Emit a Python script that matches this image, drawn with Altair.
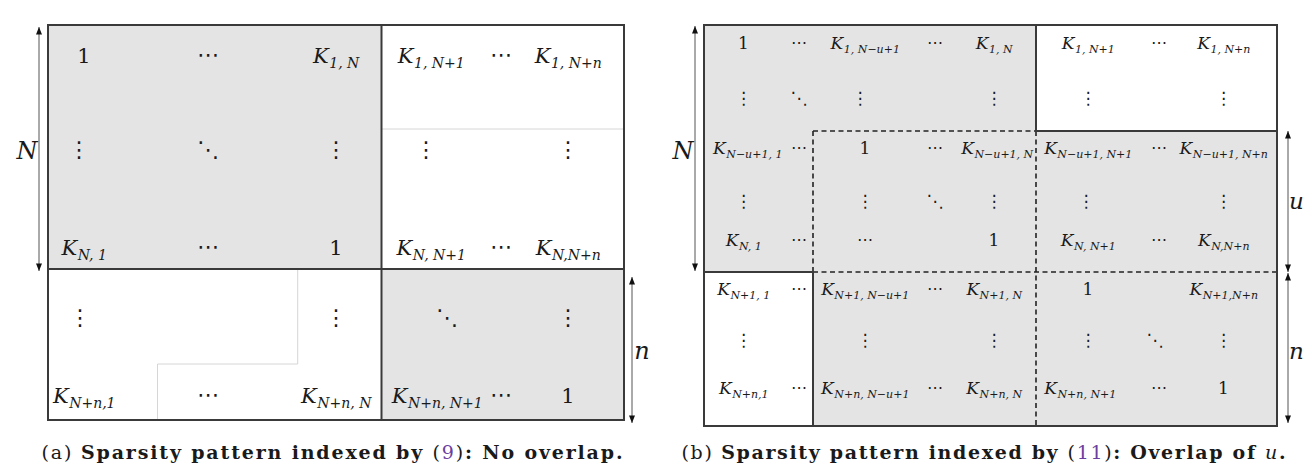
import subprocess
import altair as alt
import pandas as pd

# ---------------- colours & fonts ----------------
BLACK = "#1a1a1a"
LINE = "#3a3a3a"
GREY = "#e4e4e4"
FAINT = "#d6d6d6"
PURPLE = "#6b3fa0"
SERIF = "DejaVu Serif"
SANS = "DejaVu Sans"

# ---------------- panel (a): No overlap ----------------
A_GREY = [(48, 381.5, 25, 269), (381.5, 624, 269, 420)]
A_SOLID = [(48, 624, 25, 25), (48, 624, 420, 420), (48, 48, 25, 420), (624, 624, 25, 420),
           (381.5, 381.5, 25, 420), (48, 624, 269, 269)]
A_FAINT = [(381.5, 624, 129, 129), (297.7, 297.7, 269, 364), (157.5, 297.7, 364, 364), (157.5, 157.5, 364, 420)]
A_COL_X = [84, 208, 336, 431, 501, 568]
A_ROW_Y = [55, 150, 247, 318, 395]
A_CELLS = [
    ["1", "⋯", "K_1, N", "K_1, N+1", "⋯", "K_1, N+n"],
    ["⋮", "⋱", "⋮", "⋮", "", "⋮"],
    ["K_N, 1", "⋯", "1", "K_N, N+1", "⋯", "K_N,N+n"],
    ["⋮", "", "⋮", "⋱", "", "⋮"],
    ["K_N+n,1", "⋯", "K_N+n, N", "K_N+n, N+1", "⋯", "1"],
]
A_NUDGE = {(1, 3): -5, (3, 3): 16, (4, 3): 6, (1, 0): -5, (3, 0): -4}
A_SIZES = dict(k=21, sub=14, dots={"⋯": 22, "⋮": 22, "⋱": 22})

# ---------------- panel (b): Overlap of u ----------------
B_GREY = [(704, 1036, 25, 272), (813, 1277, 272, 426), (1036, 1277, 131, 272)]
B_SOLID = [(704, 1277, 25, 25), (704, 1277, 426, 426), (704, 704, 25, 426), (1277, 1277, 25, 426),
           (1036, 1036, 25, 131), (1036, 1277, 131, 131), (704, 813, 272, 272), (813, 813, 272, 426)]
B_DASHED = [(813, 1036, 131, 131), (813, 813, 131, 272), (813, 1277, 272, 272), (1036, 1036, 131, 426)]
B_COL_X = [743.5, 799, 865, 935, 994, 1088, 1159, 1223.5]
B_ROW_Y = [43, 99, 147.5, 202, 239.5, 289, 341, 388]
B_CELLS = [
    ["1", "⋯", "K_1, N−u+1", "⋯", "K_1, N", "K_1, N+1", "⋯", "K_1, N+n"],
    ["⋮", "⋱", "⋮", "", "⋮", "⋮", "", "⋮"],
    ["K_N−u+1, 1", "⋯", "1", "⋯", "K_N−u+1, N", "K_N−u+1, N+1", "⋯", "K_N−u+1, N+n"],
    ["⋮", "", "⋮", "⋱", "⋮", "⋮", "", "⋮"],
    ["K_N, 1", "⋯", "⋯", "", "1", "K_N, N+1", "⋯", "K_N,N+n"],
    ["K_N+1, 1", "⋯", "K_N+1, N−u+1", "⋯", "K_N+1, N", "1", "", "K_N+1,N+n"],
    ["⋮", "", "⋮", "", "⋮", "⋮", "⋱", "⋮"],
    ["K_N+n,1", "⋯", "K_N+n, N−u+1", "⋯", "K_N+n, N", "K_N+n, N+1", "⋯", "1"],
]
B_NUDGE = {(2, 0): 4, (2, 4): 3, (6, 6): -4, (7, 5): -8, (1, 2): -5, (3, 5): -2}
B_SIZES = dict(k=17, sub=11, dots={"⋯": 16, "⋮": 17, "⋱": 17})

# ---------------- side arrows & labels ----------------
ARROWS = [(39, 27, 271), (632, 277, 423), (695, 26, 271), (1288, 131, 272), (1288, 273, 423)]
SIDE_LABELS = [("N", 27, 150, 24, 0.365), ("n", 642, 353, 24, 0.26),
               ("N", 683, 150, 24, 0.365), ("u", 1296.5, 203, 23, 0.26), ("n", 1296.5, 353, 23, 0.26)]

# ---------------- captions ----------------
CAP_A = [("(a) ", "reg", BLACK), ("Sparsity pattern indexed by ", "bold", BLACK), ("(", "reg", BLACK),
         ("9", "reg", PURPLE), (")", "reg", BLACK), (": No overlap.", "bold", BLACK)]
CAP_B = [("(b) ", "reg", BLACK), ("Sparsity pattern indexed by ", "bold", BLACK), ("(", "reg", BLACK),
         ("11", "reg", PURPLE), (")", "reg", BLACK), (": Overlap of ", "bold", BLACK),
         ("u", "ital", BLACK), (".", "bold", BLACK)]
# (segments, centre x, baseline y, full width)
CAPTIONS = [(CAP_A, 332, 459, 581), (CAP_B, 983.5, 459, 604)]
CAP_SIZE = 19


# ---------------- text measuring ----------------
def _font_file(family, bold=False, italic=False):
    style = (("Bold " if bold else "") + ("Italic" if italic else "")).strip() or "Book"
    try:
        r = subprocess.run(["fc-match", "-f", "%{file}", f"{family}:style={style}"],
                           capture_output=True, text=True, timeout=10)
        return r.stdout.strip() or None
    except Exception:
        return None


_FONTS = {}


def text_width(text, family, size, bold=False, italic=False):
    key = (family, bold, italic)
    try:
        from PIL import ImageFont
        if key not in _FONTS:
            _FONTS[key] = ImageFont.truetype(_font_file(family, bold, italic), 100)
        return _FONTS[key].getlength(text) * size / 100.0
    except Exception:
        per = 0.68 if bold else 0.6
        return len(text) * size * per


# ---------------- build tables ----------------
k_rows, sub_rows, one_rows, dot_rows = [], [], [], []


def add_cells(cells, col_x, row_y, nudges, sz):
    for r, row in enumerate(cells):
        for c, lab in enumerate(row):
            if not lab:
                continue
            cx = col_x[c] + nudges.get((r, c), 0)
            cy = row_y[r]
            if lab.startswith("K_"):
                sub = lab[2:]
                kw = text_width("K", SERIF, sz["k"], italic=True)
                sw = text_width(sub, SERIF, sz["sub"], italic=True)
                anchor = cx - (kw + sw) / 2 + kw
                base = cy + 0.365 * sz["k"]
                k_rows.append(dict(x=anchor, y=base, t="K", s=sz["k"], c=BLACK))
                sub_rows.append(dict(x=anchor + 0.5, y=base + 0.24 * sz["k"], t=sub, s=sz["sub"], c=BLACK))
            elif lab == "1":
                one_rows.append(dict(x=cx, y=cy + 0.365 * sz["k"], t="1", s=sz["k"], c=BLACK))
            else:
                dot_rows.append(dict(x=cx, y=cy, t=lab, s=sz["dots"][lab], c=BLACK))


add_cells(A_CELLS, A_COL_X, A_ROW_Y, A_NUDGE, A_SIZES)
add_cells(B_CELLS, B_COL_X, B_ROW_Y, B_NUDGE, B_SIZES)

side_rows = [dict(x=x, y=y + f * s, t=t, s=s, c=BLACK) for (t, x, y, s, f) in SIDE_LABELS]

# captions: one text per character, tracked out to the caption's full width
cap_reg, cap_bold, cap_ital = [], [], []
for segs, cx, base, full in CAPTIONS:
    chars = []
    for t, st, col in segs:
        for ch in t:
            w = text_width(ch, SERIF, CAP_SIZE, bold=(st == "bold"), italic=(st == "ital"))
            chars.append((ch, st, col, w))
    natural = sum(c[3] for c in chars)
    track = (full - natural) / (len(chars) - 1)
    xcur = cx - full / 2
    for ch, st, col, w in chars:
        if ch != " ":
            row = dict(x=xcur, y=base, t=ch, s=CAP_SIZE, c=col)
            {"reg": cap_reg, "bold": cap_bold, "ital": cap_ital}[st].append(row)
        xcur += w + track

grey_df = pd.DataFrame(A_GREY + B_GREY, columns=["x", "x2", "y", "y2"])
solid_df = pd.DataFrame(A_SOLID + B_SOLID, columns=["x", "x2", "y", "y2"])
dash_df = pd.DataFrame(B_DASHED, columns=["x", "x2", "y", "y2"])
faint_df = pd.DataFrame(A_FAINT, columns=["x", "x2", "y", "y2"])
shaft_df = pd.DataFrame([(x, x, a, b) for x, a, b in ARROWS], columns=["x", "x2", "y", "y2"])
up_df = pd.DataFrame([(x, a) for x, a, b in ARROWS], columns=["x", "y"])
down_df = pd.DataFrame([(x, b) for x, a, b in ARROWS], columns=["x", "y"])

# ---------------- chart ----------------
XS = alt.Scale(domain=[8, 1304], nice=False, zero=False)
YS = alt.Scale(domain=[8, 466], nice=False, zero=False, reverse=True)


def rect_layer(df, fill):
    return alt.Chart(df).mark_rect(fill=fill).encode(
        x=alt.X("x:Q", scale=XS, axis=None), x2="x2:Q",
        y=alt.Y("y:Q", scale=YS, axis=None), y2="y2:Q")


def rule_layer(df, color, width, dash=None, cap="butt"):
    kw = dict(color=color, strokeWidth=width, strokeCap=cap)
    if dash:
        kw["strokeDash"] = dash
    return alt.Chart(df).mark_rule(**kw).encode(
        x=alt.X("x:Q", scale=XS, axis=None), x2="x2:Q",
        y=alt.Y("y:Q", scale=YS, axis=None), y2="y2:Q")


def head_layer(df, path):
    return alt.Chart(df).mark_point(shape=path, filled=True, size=36, color="#111111",
                                    opacity=1, strokeWidth=0).encode(
        x=alt.X("x:Q", scale=XS, axis=None), y=alt.Y("y:Q", scale=YS, axis=None))


def text_layer(rows, font, align, style="normal", weight="normal", baseline="alphabetic"):
    return alt.Chart(pd.DataFrame(rows)).mark_text(
        font=font, align=align, baseline=baseline, fontStyle=style, fontWeight=weight).encode(
        x=alt.X("x:Q", scale=XS, axis=None),
        y=alt.Y("y:Q", scale=YS, axis=None),
        text="t:N",
        size=alt.Size("s:Q", scale=None, legend=None),
        color=alt.Color("c:N", scale=None, legend=None),
    )


layers = [
    rect_layer(grey_df, GREY),
    rule_layer(faint_df, FAINT, 1),
    rule_layer(dash_df, "#222222", 1.6, dash=[5, 3.5]),
    rule_layer(solid_df, LINE, 2, cap="square"),
    rule_layer(shaft_df, "#555555", 1),
    head_layer(up_df, "M0,0L-1,2.5L1,2.5Z"),
    head_layer(down_df, "M0,0L-1,-2.5L1,-2.5Z"),
    text_layer(k_rows, SERIF, "right", style="italic"),
    text_layer(sub_rows, SERIF, "left", style="italic"),
    text_layer(cap_ital, SERIF, "left", style="italic"),
    text_layer(side_rows, SERIF, "center", style="italic"),
    text_layer(one_rows, SERIF, "center"),
    text_layer(dot_rows, SANS, "center", baseline="middle"),
    text_layer(cap_reg, SERIF, "left"),
    text_layer(cap_bold, SERIF, "left", weight="bold"),
]

chart = alt.layer(*layers).properties(
    width=1296, height=458, padding=0,
    autosize=alt.AutoSizeParams(type="none"),
    background="white",
).configure_view(strokeWidth=0)

chart.save("out.html", embed_options={"renderer": "svg", "actions": False})
